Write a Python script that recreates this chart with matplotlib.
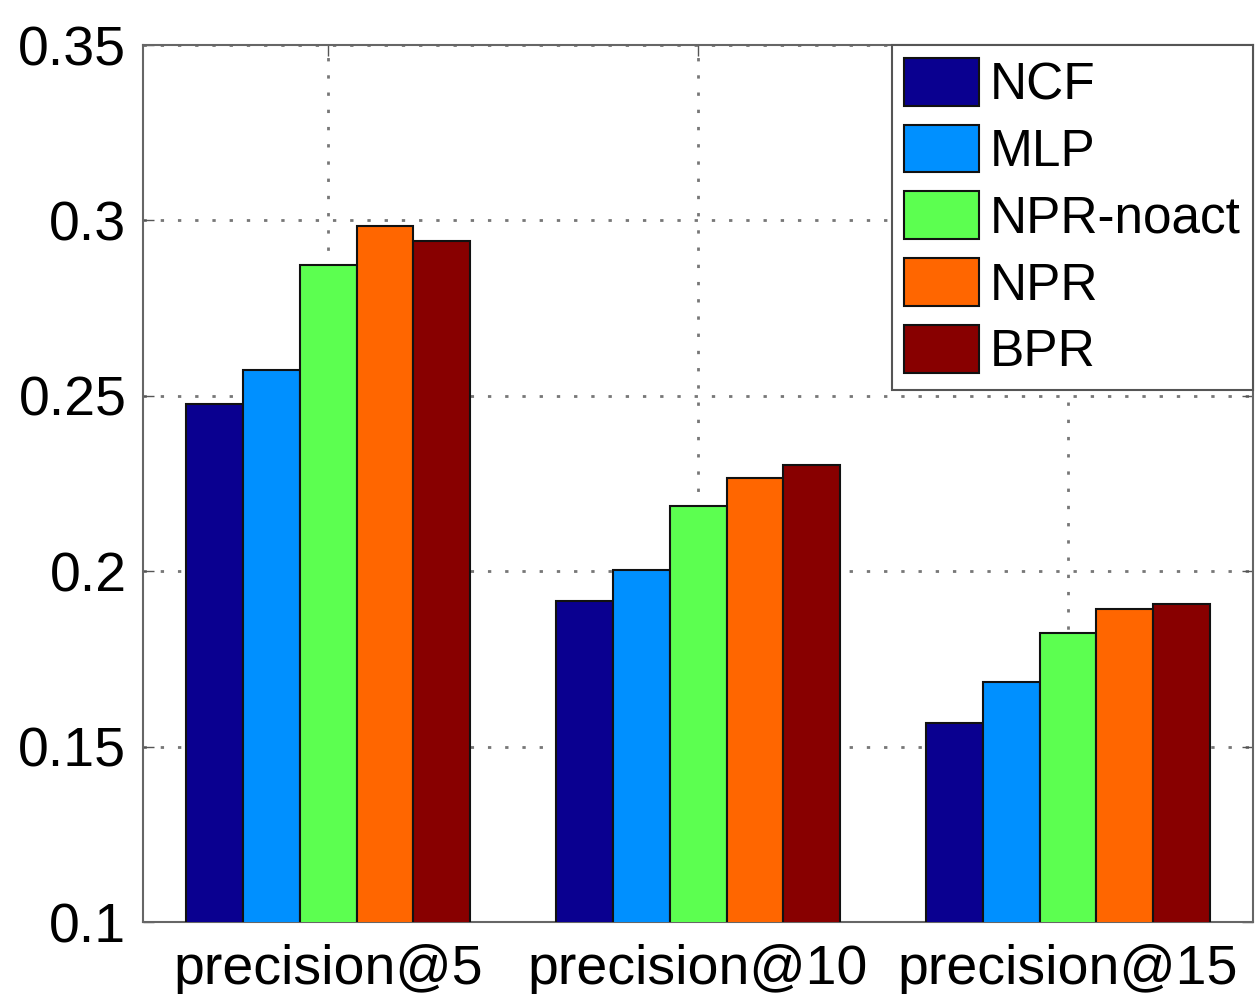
import matplotlib.pyplot as plt
import numpy as np

plt.rcParams['font.family'] = ['Liberation Sans', 'DejaVu Sans']

# precision@k for each method
metrics = ['precision@5', 'precision@10', 'precision@15']
methods = ['NCF', 'MLP', 'NPR-noact', 'NPR', 'BPR']
ncf = [0.2477, 0.1915, 0.1567]
mlp = [0.2574, 0.2003, 0.1684]
npr_noact = [0.2873, 0.2186, 0.1824]
npr = [0.2984, 0.2266, 0.1892]
bpr = [0.2941, 0.2303, 0.1906]
colors = ['#0a0090', '#0090ff', '#5cff50', '#ff6600', '#880000']

series = [ncf, mlp, npr_noact, npr, bpr]

fig = plt.figure(figsize=(12.57, 9.94), dpi=100)
ax = fig.add_axes([0.1138, 0.0724, 0.883, 0.8823])

x = np.arange(1, len(metrics) + 1)
width = 0.154
for i, (vals, name, c) in enumerate(zip(series, methods, colors)):
    offset = (i - 2) * width
    ax.bar(x + offset, vals, width, color=c, edgecolor='#111111',
           linewidth=1.5, label=name, zorder=3)

ax.set_xlim(0.5, 3.5)
ax.set_ylim(0.1, 0.35)
ax.set_xticks(x)
ax.set_xticklabels(metrics)
ax.set_yticks([0.1, 0.15, 0.2, 0.25, 0.3, 0.35])
ax.set_yticklabels(['0.1', '0.15', '0.2', '0.25', '0.3', '0.35'])
ax.tick_params(direction='in', length=8, width=1, top=True, right=True,
               labelsize=40, colors='#555555', labelcolor='black')
ax.tick_params(axis='x', pad=16)
ax.tick_params(axis='y', pad=12)
ax.grid(True, linestyle=(0, (1.2, 5)), color='#777777', linewidth=2, zorder=0)
for s in ax.spines.values():
    s.set_color('#666666')
    s.set_linewidth(1.5)

leg = ax.legend(loc='upper right', fontsize=37, borderaxespad=0,
                handlelength=1.45, handleheight=1.05, labelspacing=0.28,
                handletextpad=0.2, borderpad=0.25, fancybox=False,
                framealpha=1, edgecolor='#555555')
leg.get_frame().set_linewidth(1.5)
leg.set_zorder(5)

fig.savefig('out.png', dpi=100)
